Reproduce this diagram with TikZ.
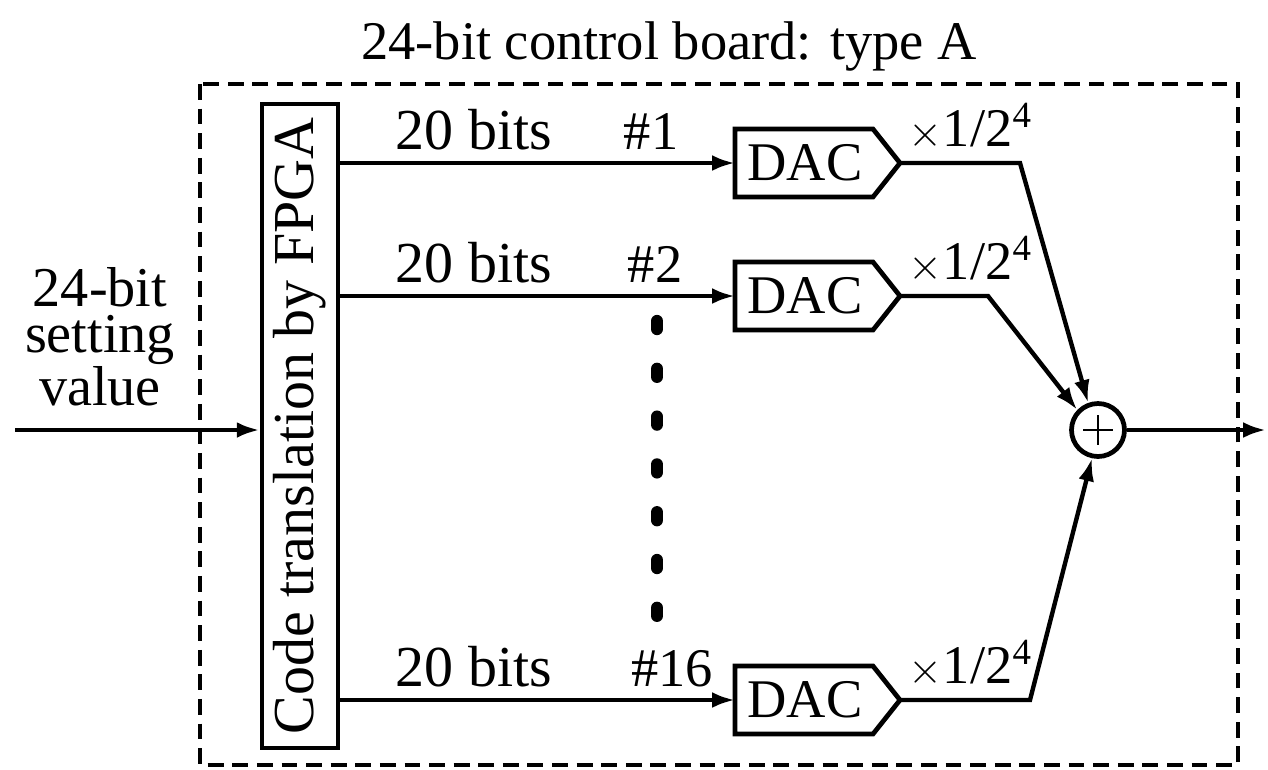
\documentclass[tikz,border=0pt]{standalone}
\usepackage{fontspec}
\setmainfont{Liberation Serif}
\usetikzlibrary{arrows.meta,calc}

\newcommand{\gainlabel}{$\times$1/2\raisebox{0.75ex}{\fontsize{21}{21}\selectfont 4}}

\begin{document}
\begin{tikzpicture}[x=0.02cm, y=-0.02cm,
  every node/.style={font=\fontsize{31}{26}\selectfont, inner sep=0pt},
  bigtext/.style={font=\fontsize{33}{26}\selectfont},
  wire/.style={line width=2.5pt},
  arr/.style={wire, -{Latex[length=13pt, width=9pt]}},
  frame/.style={line width=2.2pt, dash pattern=on 9pt off 5pt},
  blockbox/.style={draw, line width=2.7pt},
  dotbar/.style={line width=7pt, line cap=round},
  lbl/.style={anchor=base}]

\useasboundingbox (0,0) rectangle (1268,769);

% board outline and title
\draw[frame] (200,84) rectangle (1238,765);
\node[lbl] (title) at (669,59) {24-bit control board: type A};

% FPGA code translation block
\node[blockbox, minimum width=76*0.02cm, minimum height=644*0.02cm, bigtext] (fpga) at (300,426)
  {\rotatebox{90}{Code translation by FPGA}};

% input
\coordinate (in) at (15,430);
\draw[arr] (in) -- (in -| fpga.west);
\node[align=center, anchor=base, font=\fontsize{32}{26}\selectfont] (setval) at (100,405) {24-bit\\setting\\value};

% DAC blocks
\foreach \n/\y in {1/163, 2/296, 3/700}{
  \coordinate (d\n-in) at (735,\y);
  \coordinate (d\n-out) at (900,\y);
  \draw[blockbox, line join=miter] (735,\y-34) -- (873,\y-34) -- (d\n-out) -- (873,\y+34) -- (735,\y+34) -- cycle;
  \node (dac\n) at (805,\y) {DAC};
  \coordinate (f\n) at (fpga.east |- d\n-in);
  \draw[arr] (f\n) -- (d\n-in);
}

% labels on the channels
\node[lbl, bigtext] (b1) at (474,149) {20 bits};
\node[lbl, bigtext] (b2) at (474,282) {20 bits};
\node[lbl, bigtext] (b3) at (474,686) {20 bits};
\node[lbl] (h1) at (651,149) {\#1};
\node[lbl] (h2) at (655,282) {\#2};
\node[lbl] (h3) at (672,686) {\#16};
\node[lbl] (g1) at (970,146) {\gainlabel};
\node[lbl] (g2) at (970,279) {\gainlabel};
\node[lbl] (g3) at (970,683) {\gainlabel};

% ellipsis between channel 2 and channel 16
\foreach \i in {0,...,6}
  \draw[dotbar] (657,{321+47.8*\i}) -- ++(0,8);

% summing junction
\node[draw, circle, line width=2.7pt, minimum size=53*0.02cm] (sum) at (1098,430) {};
\draw[line width=1.3pt] ($(sum.center)+(-15,0)$) -- ($(sum.center)+(15,0)$)
                        ($(sum.center)+(0,-15)$) -- ($(sum.center)+(0,15)$);

\coordinate (k1) at (1020,163);
\coordinate (k2) at (988,296);
\coordinate (k3) at (1030,700);
\draw[arr, line join=miter] (d1-out) -- (k1) -- (sum.110);
\draw[arr, line join=miter] (d2-out) -- (k2) -- (sum.136);
\draw[arr, line join=miter] (d3-out) -- (k3) -- (sum.258);

% output
\coordinate (out) at (1266,430);
\draw[arr] (sum.east) -- (out);
\end{tikzpicture}
\end{document}
